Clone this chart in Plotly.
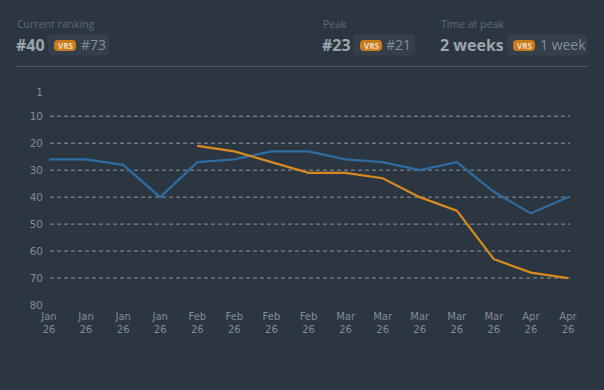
import plotly.graph_objects as go

# ---------------- data ----------------
MONTHS = ["Jan", "Jan", "Jan", "Jan", "Feb", "Feb", "Feb", "Feb",
          "Mar", "Mar", "Mar", "Mar", "Mar", "Apr", "Apr"]
YEARS = ["26"] * 15
BLUE_RANK = [26, 26, 28, 40, 27, 26, 23, 23, 26, 27, 30, 27, 38, 46, 40]
ORANGE_RANK = [None, None, None, None, 21, 23, 27, 31, 31, 33, 40, 45, 63, 68, 70]
Y_TICKS = [1, 10, 20, 30, 40, 50, 60, 70, 80]
GRID_VALUES = [10, 20, 30, 40, 50, 60, 70]

HEADER = [
    {"label": "Current ranking", "main": "#40", "other": "#73"},
    {"label": "Peak", "main": "#23", "other": "#21"},
    {"label": "Time at peak", "main": "2 weeks", "other": "1 week"},
]

# ---------------- layout geometry ----------------
W, H = 604, 390
L, R = 49, 36
T = 92
B = 85
PW = W - L - R
PH = H - T - B

BG = "#2c3641"
BLUE = "#2f6ca3"
ORANGE = "#d98a1f"
TICK = "#828c97"

def px(x):
    return (x - L) / PW

def py(y):
    return (H - B - y) / PH

x = list(range(len(MONTHS)))
ticktext = [f"{m}<br>{y}" for m, y in zip(MONTHS, YEARS)]

fig = go.Figure()
fig.add_trace(go.Scatter(x=x, y=BLUE_RANK, mode="lines",
                         line=dict(color=BLUE, width=2.2), hoverinfo="skip",
                         showlegend=False))
fig.add_trace(go.Scatter(x=x, y=ORANGE_RANK, mode="lines",
                         line=dict(color=ORANGE, width=2.2), hoverinfo="skip",
                         showlegend=False))

shapes = []
for g in GRID_VALUES:
    shapes.append(dict(type="line", xref="paper", yref="y", x0=px(50), x1=px(570),
                       y0=g, y1=g, line=dict(color="#8c96a0", width=1, dash="4px,3px"),
                       layer="below"))

# divider
shapes.append(dict(type="line", xref="paper", yref="paper", x0=px(16), x1=px(588),
                   y0=py(66.5), y1=py(66.5), line=dict(color="#4b5663", width=1)))

def rrect(x0, y0, x1, y1, r, color):
    X0, X1 = px(x0), px(x1)
    Y0, Y1 = py(y0), py(y1)
    rx = r / PW
    ry = r / PH
    path = (f"M {X0+rx},{Y0} L {X1-rx},{Y0} Q {X1},{Y0} {X1},{Y0-ry} "
            f"L {X1},{Y1+ry} Q {X1},{Y1} {X1-rx},{Y1} L {X0+rx},{Y1} "
            f"Q {X0},{Y1} {X0},{Y1+ry} L {X0},{Y0-ry} Q {X0},{Y0} {X0+rx},{Y0} Z")
    return dict(type="path", xref="paper", yref="paper", path=path,
                fillcolor=color, line=dict(width=0), layer="below")

annotations = []
blocks = [
    dict(lx=16, mainx=16, box=(48, 109), vrs=(54, 76), otx=81),
    dict(lx=322, mainx=322, box=(353, 415), vrs=(360, 382), otx=386),
    dict(lx=440, mainx=440, box=(507, 587), vrs=(513, 535), otx=540),
]
for h, b in zip(HEADER, blocks):
    annotations.append(dict(x=px(b["lx"] - 1), y=py(24), xref="paper", yref="paper",
                            text=h["label"], showarrow=False, xanchor="left",
                            yanchor="middle",
                            font=dict(family="Open Sans", size=10.5, color="#5f6b77")))
    annotations.append(dict(x=px(b["mainx"] - 2), y=py(44.5), xref="paper", yref="paper",
                            text=f"<b>{h['main']}</b>", showarrow=False, xanchor="left",
                            yanchor="middle",
                            font=dict(family="Open Sans", size=16, color="#9ba4ad")))
    shapes.append(rrect(b["box"][0], 34, b["box"][1], 55.5, 4, "#343f4b"))
    shapes.append(rrect(b["vrs"][0], 40, b["vrs"][1], 51, 4, "#c97d1c"))
    annotations.append(dict(x=px((b["vrs"][0] + b["vrs"][1]) / 2), y=py(45.5),
                            xref="paper", yref="paper", text="<b>VRS</b>",
                            showarrow=False, xanchor="center", yanchor="middle",
                            font=dict(family="Open Sans", size=8, color="#f3dcc0")))
    annotations.append(dict(x=px(b["otx"] - 2), y=py(44.5), xref="paper", yref="paper",
                            text=h["other"], showarrow=False, xanchor="left",
                            yanchor="middle",
                            font=dict(family="Open Sans", size=14, color="#848e99")))

fig.update_layout(
    width=W, height=H,
    margin=dict(l=L, r=R, t=T, b=B),
    paper_bgcolor=BG, plot_bgcolor=BG,
    shapes=shapes, annotations=annotations,
    xaxis=dict(range=[0, len(MONTHS) - 1], tickvals=x, ticktext=ticktext,
               showgrid=False, zeroline=False, showline=False, ticks="",
               ticklabelstandoff=4,
               tickfont=dict(family="DejaVu Sans", size=10, color=TICK),
               fixedrange=True),
    yaxis=dict(range=[80, 1], tickvals=Y_TICKS, ticktext=[str(v) for v in Y_TICKS],
               showgrid=False, zeroline=False, showline=False, ticks="",
               ticklabelstandoff=5,
               tickfont=dict(family="DejaVu Sans", size=10.5, color=TICK),
               fixedrange=True),
)

fig.write_html("out.html", config={"displayModeBar": False},
               post_script="document.body.style.margin='0';document.body.style.background='%s';" % BG)
